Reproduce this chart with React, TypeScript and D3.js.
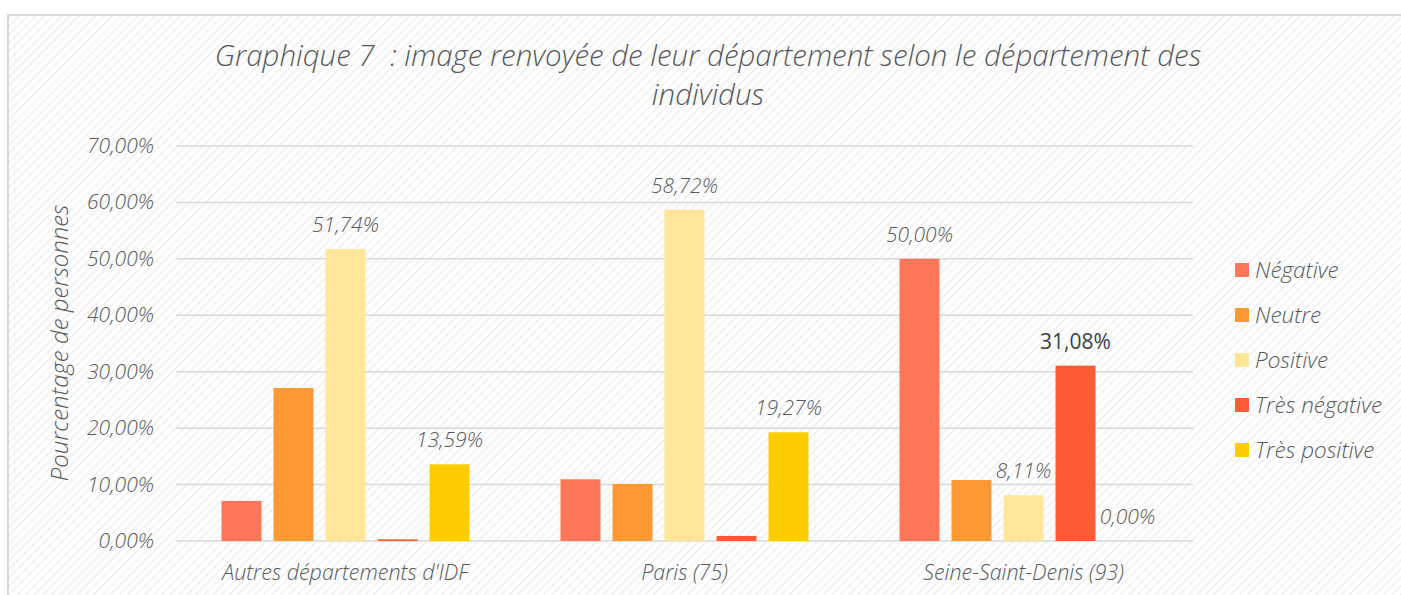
import React from "react";
import * as d3 from "d3";

const categories = ["Autres départements d'IDF", "Paris (75)", "Seine-Saint-Denis (93)"];
const seriesNames = ["Négative", "Neutre", "Positive", "Très négative", "Très positive"];
const seriesColors = ["#FF7758", "#FF9933", "#FFE699", "#FF5B35", "#FFCC00"];
const negative = [7.1, 10.94, 50.0];
const neutre = [27.1, 10.1, 10.8];
const positive = [51.74, 58.72, 8.11];
const tresNegative = [0.3, 0.9, 31.08];
const tresPositive = [13.59, 19.27, 0.0];
const yTicks = [0, 10, 20, 30, 40, 50, 60, 70];
// which labels are shown: [category][series]
const shownLabels = [
  [false, false, true, false, true],
  [false, false, true, false, true],
  [true, false, true, true, true],
];

const W = 1401;
const H = 595;
const plotLeft = 176;
const plotRight = 1193;
const yTop = 146;
const yBottom = 541;
const FONT = "'Open Sans', 'Segoe UI', sans-serif";
const TEXT = "#595959";
const LIGHT = 300;

const fmt = (v: number) => v.toFixed(2).replace(".", ",") + "%";

export default function App() {
  const series = [negative, neutre, positive, tresNegative, tresPositive];
  const x0 = d3.scaleBand<string>().domain(categories).range([plotLeft, plotRight]).paddingInner(0).paddingOuter(0);
  const groupWidth = 248;
  const x1 = d3
    .scaleBand<string>()
    .domain(seriesNames)
    .range([0, groupWidth])
    .paddingInner(12 / 52)
    .paddingOuter(0);
  const y = d3.scaleLinear().domain([0, 70]).range([yBottom, yTop]);

  return (
    <svg
      width={W}
      height={H}
      style={{ position: "absolute", left: 0, top: 0, background: "#fff" }}
    >
      <defs>
        <pattern id="hatch" width="6" height="6" patternUnits="userSpaceOnUse" patternTransform="rotate(45)">
          <rect width="6" height="6" fill="#ffffff" />
          <line x1="0" y1="0" x2="0" y2="6" stroke="#efefef" strokeWidth="3" />
        </pattern>
      </defs>
      <rect x={8} y={15} width={W} height={H} fill="url(#hatch)" stroke="#d9d9d9" strokeWidth={2} />

      <text
        x={708}
        y={66}
        textAnchor="middle"
        fontFamily={FONT}
        fontStyle="italic"
        fontWeight={LIGHT}
        fontSize={29.5}
        fill={TEXT}
        style={{ whiteSpace: "pre" }}
      >
        {"Graphique 7  : image renvoyée de leur département selon le département des"}
      </text>
      <text x={708} y={105} textAnchor="middle" fontFamily={FONT} fontStyle="italic" fontWeight={LIGHT} fontSize={29.5} fill={TEXT}>
        individus
      </text>

      {yTicks.map((t) => (
        <g key={t}>
          <line x1={plotLeft} x2={plotRight} y1={y(t)} y2={y(t)} stroke="#d9d9d9" strokeWidth={1.5} />
          <text
            x={154}
            y={y(t) + 7}
            textAnchor="end"
            fontFamily={FONT}
            fontStyle="italic"
            fontWeight={LIGHT}
            fontSize={21}
            fill={TEXT}
          >
            {fmt(t)}
          </text>
        </g>
      ))}

      <text
        transform={`translate(68, 343) rotate(-90)`}
        textAnchor="middle"
        fontFamily={FONT}
        fontStyle="italic"
        fontWeight={LIGHT}
        fontSize={24}
        fill={TEXT}
      >
        Pourcentage de personnes
      </text>

      {categories.map((c, ci) => {
        const gx = (x0(c) as number) + (x0.bandwidth() - groupWidth) / 2;
        return (
          <g key={c}>
            {seriesNames.map((s, si) => {
              const v = series[si][ci];
              const bx = gx + (x1(s) as number);
              const bw = x1.bandwidth();
              const show = shownLabels[ci][si];
              const bold = ci === 2 && si === 3;
              return (
                <g key={s}>
                  <rect x={bx} y={y(v)} width={bw} height={yBottom - y(v)} fill={seriesColors[si]} />
                  {show && (
                    <text
                      x={bx + bw / 2}
                      y={y(v) - 17}
                      textAnchor="middle"
                      fontFamily={FONT}
                      fontStyle={bold ? "normal" : "italic"}
                      fontWeight={bold ? 400 : LIGHT}
                      fontSize={21}
                      fill={bold ? "#404040" : TEXT}
                    >
                      {fmt(v)}
                    </text>
                  )}
                </g>
              );
            })}
            <text
              x={(x0(c) as number) + x0.bandwidth() / 2}
              y={580}
              textAnchor="middle"
              fontFamily={FONT}
              fontStyle="italic"
              fontWeight={LIGHT}
              fontSize={21.5}
              fill={TEXT}
            >
              {c}
            </text>
          </g>
        );
      })}

      {seriesNames.map((s, si) => (
        <g key={s} transform={`translate(1235, ${270 + si * 45})`}>
          <rect x={0} y={-7} width={14} height={14} fill={seriesColors[si]} />
          <text x={20} y={7.5} fontFamily={FONT} fontStyle="italic" fontWeight={LIGHT} fontSize={22.5} fill={TEXT}>
            {s}
          </text>
        </g>
      ))}
    </svg>
  );
}
